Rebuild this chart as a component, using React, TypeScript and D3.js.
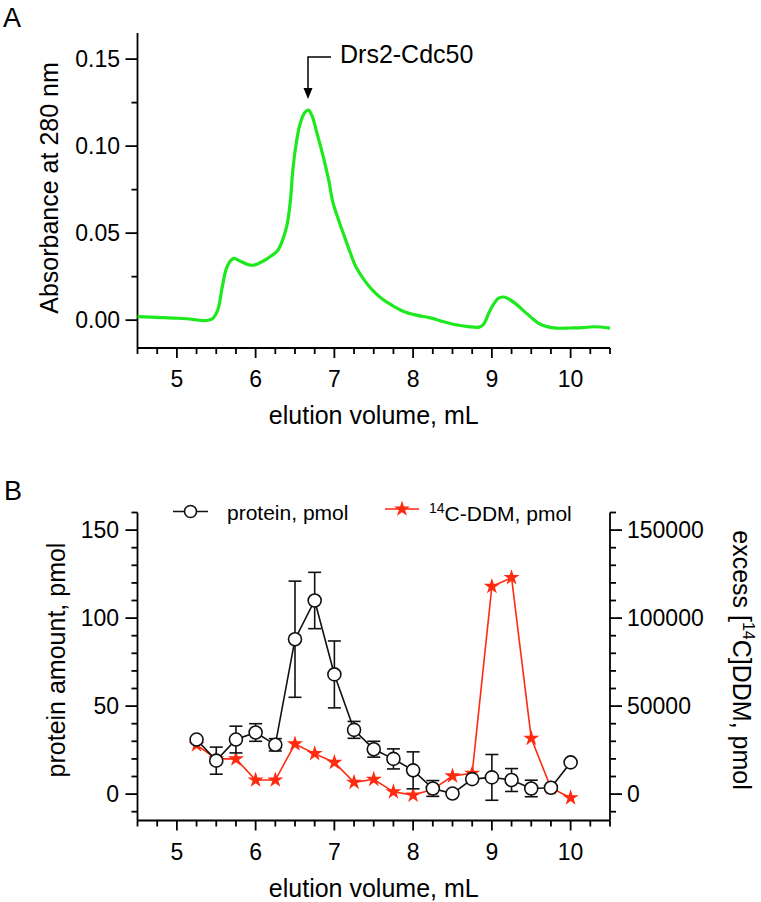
import React from "react";
import * as d3 from "d3";

// ---------- Panel A data ----------
const elutionA = [
  4.5, 4.8, 5.0, 5.2, 5.35, 5.45, 5.52, 5.58, 5.64, 5.72, 5.8, 5.9, 5.98, 6.1, 6.2, 6.28, 6.35, 6.4, 6.44,
  6.47, 6.51, 6.56, 6.62, 6.67, 6.72, 6.77, 6.83, 6.88, 6.93, 6.98, 7.05, 7.12, 7.2, 7.27, 7.38, 7.49,
  7.6, 7.73, 7.88, 8.04, 8.22, 8.38, 8.53, 8.7, 8.84, 8.9, 8.96, 9.02, 9.08, 9.15, 9.22, 9.3, 9.4, 9.5,
  9.6, 9.7, 9.82, 10.0, 10.15, 10.3, 10.5,
];
const absorbanceA = [
  0.002, 0.0015, 0.0011, 0.0005, -0.0003, 0.0008, 0.006, 0.02, 0.031, 0.0355, 0.034, 0.032, 0.0316, 0.034,
  0.037, 0.04, 0.047, 0.055, 0.068, 0.085, 0.1, 0.112, 0.119, 0.1207, 0.117, 0.109, 0.099, 0.09, 0.08,
  0.068, 0.058, 0.049, 0.039, 0.031, 0.023, 0.017, 0.0125, 0.0086, 0.005, 0.0029, 0.0013, -0.0008,
  -0.0025, -0.0037, -0.004, -0.002, 0.004, 0.009, 0.0125, 0.0133, 0.012, 0.0095, 0.0055, 0.0015, -0.002,
  -0.0037, -0.0046, -0.0045, -0.0043, -0.0038, -0.0046,
];
const yTicksA = [0, 0.05, 0.1, 0.15];
const yMinorA = [0.025, 0.075, 0.125];

// ---------- Panel B data ----------
const fractionsB = [5.25, 5.5, 5.75, 6.0, 6.25, 6.5, 6.75, 7.0, 7.25, 7.5, 7.75, 8.0, 8.25, 8.5, 8.75, 9.0, 9.25, 9.5, 9.75, 10.0];
const proteinB = [31, 19, 31, 35, 28, 88, 110, 68, 36.5, 25.5, 20, 13.5, 3.2, 0.3, 8.5, 9.5, 8, 3.2, 3.6, 18];
const proteinErrB = [0, 7.7, 7.6, 5, 3.5, 33, 16, 19, 4.8, 4.5, 5.7, 10.5, 4.5, 0, 0, 13, 6.5, 4.7, 0, 0];
const ddmB = [28000, 20000, 20000, 8000, 8000, 28500, 23000, 18000, 6700, 8400, 1300, -600, 2700, 10300, 11800, 118000, 123000, 31700, 3500, -2100];
const yTicksBLeft = [0, 50, 100, 150];
const yTicksBRight = [0, 50000, 100000, 150000];
const yMinorBLeft = [-10, 10, 20, 30, 40, 60, 70, 80, 90, 110, 120, 130, 140, 160];

// ---------- shared x ----------
const xTicks = [5, 6, 7, 8, 9, 10];
const xMinor = [4.5, 4.75, 5.25, 5.5, 5.75, 6.25, 6.5, 6.75, 7.25, 7.5, 7.75, 8.25, 8.5, 8.75, 9.25, 9.5, 9.75, 10.25, 10.5];

const FONT = "'Liberation Sans', Arial, Helvetica, sans-serif";
const GREEN = "#1ee81e";
const RED = "#ff2a10";

export default function App() {
  const x = d3.scaleLinear().domain([4.5, 10.5]).range([137.5, 610]);
  const yA = d3.scaleLinear().domain([-0.016, 0.165]).range([348, 33]);
  const yB = d3.scaleLinear().domain([-15, 160]).range([820.5, 512.5]);
  const yR = d3.scaleLinear().domain([-15000, 160000]).range([820.5, 512.5]);

  const lineA = d3
    .line<number>()
    .x((_, i) => x(elutionA[i]))
    .y((d) => yA(d))
    .curve(d3.curveCatmullRom.alpha(0.5));
  const lineProt = d3
    .line<number>()
    .x((_, i) => x(fractionsB[i]))
    .y((d) => yB(d));
  const lineDdm = d3
    .line<number>()
    .x((_, i) => x(fractionsB[i]))
    .y((d) => yR(d));
  const star = d3.symbol().type(d3.symbolStar).size(80)();

  const axisStyle = { stroke: "#000", strokeWidth: 1.8, fill: "none" };
  const tickFont = { fontFamily: FONT, fontSize: 23, fill: "#000" };
  const titleFont = { fontFamily: FONT, fontSize: 25, fill: "#000" };

  const xAxis = (yBase: number, labelBase: number, titleBase: number) => (
    <g>
      <line x1={x(4.5)} x2={x(10.5)} y1={yBase} y2={yBase} style={axisStyle} />
      {xTicks.map((t) => (
        <g key={"M" + t}>
          <line x1={x(t)} x2={x(t)} y1={yBase} y2={yBase + 10} style={axisStyle} />
          <text x={x(t)} y={labelBase} textAnchor="middle" style={tickFont}>
            {t}
          </text>
        </g>
      ))}
      {xMinor.map((t) => (
        <line key={"m" + t} x1={x(t)} x2={x(t)} y1={yBase} y2={yBase + 6} style={axisStyle} />
      ))}
      <text x={(x(4.5) + x(10.5)) / 2} y={titleBase} textAnchor="middle" style={titleFont}>
        elution volume, mL
      </text>
    </g>
  );

  return (
    <svg
      width={761}
      height={902}
      style={{ position: "absolute", left: 0, top: 0, background: "#fff" }}
    >
      {/* ===== Panel A ===== */}
      <text x={3} y={27} style={{ fontFamily: FONT, fontSize: 27, fill: "#000" }}>
        A
      </text>
      <line x1={x(4.5)} x2={x(4.5)} y1={33} y2={348} style={axisStyle} />
      {yTicksA.map((t) => (
        <g key={"ya" + t}>
          <line x1={x(4.5) - 12} x2={x(4.5)} y1={yA(t)} y2={yA(t)} style={axisStyle} />
          <text x={120} y={yA(t) + 8} textAnchor="end" style={tickFont}>
            {d3.format(".2f")(t)}
          </text>
        </g>
      ))}
      {yMinorA.map((t) => (
        <line key={"yam" + t} x1={x(4.5) - 6} x2={x(4.5)} y1={yA(t)} y2={yA(t)} style={axisStyle} />
      ))}
      {xAxis(348, 386.5, 424)}
      <text transform="translate(58,188) rotate(-90)" textAnchor="middle" style={titleFont}>
        Absorbance at 280 nm
      </text>
      <path d={lineA(absorbanceA) || ""} fill="none" stroke={GREEN} strokeWidth={3.2} strokeLinejoin="round" />
      {/* annotation arrow */}
      <path d="M331,57 H308 V90" fill="none" stroke="#000" strokeWidth={1.5} />
      <path d="M303.5,88 L308,99 L312.5,88 Z" fill="#000" />
      <text x={340} y={63} style={{ fontFamily: FONT, fontSize: 25, fill: "#000" }}>
        Drs2-Cdc50
      </text>

      {/* ===== Panel B ===== */}
      <text x={4} y={500} style={{ fontFamily: FONT, fontSize: 27, fill: "#000" }}>
        B
      </text>
      <line x1={x(4.5)} x2={x(4.5)} y1={512.5} y2={820.5} style={axisStyle} />
      <line x1={x(10.5)} x2={x(10.5)} y1={512.5} y2={820.5} style={axisStyle} />
      {yTicksBLeft.map((t) => (
        <g key={"yb" + t}>
          <line x1={x(4.5) - 12} x2={x(4.5)} y1={yB(t)} y2={yB(t)} style={axisStyle} />
          <text x={119} y={yB(t) + 8} textAnchor="end" style={tickFont}>
            {t}
          </text>
        </g>
      ))}
      {yMinorBLeft.map((t) => (
        <g key={"ybm" + t}>
          <line x1={x(4.5) - 6} x2={x(4.5)} y1={yB(t)} y2={yB(t)} style={axisStyle} />
          <line x1={x(10.5)} x2={x(10.5) + 6} y1={yB(t)} y2={yB(t)} style={axisStyle} />
        </g>
      ))}
      {yTicksBRight.map((t) => (
        <g key={"yr" + t}>
          <line x1={x(10.5)} x2={x(10.5) + 12} y1={yR(t)} y2={yR(t)} style={axisStyle} />
          <text x={627} y={yR(t) + 8} textAnchor="start" style={tickFont}>
            {t}
          </text>
        </g>
      ))}
      {xAxis(820.5, 860, 897)}
      <text transform="translate(65,660) rotate(-90)" textAnchor="middle" style={titleFont}>
        protein amount, pmol
      </text>
      <text transform="translate(733,660) rotate(90)" textAnchor="middle" style={titleFont}>
        excess [<tspan fontSize={16} dy={-10}>14</tspan>
        <tspan dy={10}>C]DDM, pmol</tspan>
      </text>

      {/* DDM series (behind) */}
      <path d={lineDdm(ddmB) || ""} fill="none" stroke={RED} strokeWidth={1.6} />
      {ddmB.map((v, i) => (
        <path key={"s" + i} d={star || ""} transform={`translate(${x(fractionsB[i])},${yR(v)})`} fill={RED} />
      ))}

      {/* protein series */}
      <path d={lineProt(proteinB) || ""} fill="none" stroke="#111" strokeWidth={1.6} />
      {proteinB.map((v, i) => {
        const e = proteinErrB[i];
        if (!e) return null;
        const cx = x(fractionsB[i]);
        return (
          <g key={"e" + i} stroke="#111" strokeWidth={1.6}>
            <line x1={cx} x2={cx} y1={yB(v + e)} y2={yB(v - e)} />
            <line x1={cx - 6.5} x2={cx + 6.5} y1={yB(v + e)} y2={yB(v + e)} />
            <line x1={cx - 6.5} x2={cx + 6.5} y1={yB(v - e)} y2={yB(v - e)} />
          </g>
        );
      })}
      {proteinB.map((v, i) => (
        <circle key={"c" + i} cx={x(fractionsB[i])} cy={yB(v)} r={6.5} fill="#fff" stroke="#111" strokeWidth={1.6} />
      ))}

      {/* legend */}
      <line x1={173} x2={208} y1={511.5} y2={511.5} stroke="#111" strokeWidth={1.6} />
      <circle cx={190.5} cy={511.5} r={6} fill="#fff" stroke="#111" strokeWidth={1.6} />
      <text x={227} y={520} style={{ fontFamily: FONT, fontSize: 21, fill: "#000" }}>
        protein, pmol
      </text>
      <line x1={385} x2={419} y1={509} y2={509} stroke={RED} strokeWidth={1.6} />
      <path d={star || ""} transform="translate(402,509)" fill={RED} />
      <text x={429} y={521} style={{ fontFamily: FONT, fontSize: 21, fill: "#000" }}>
        <tspan fontSize={14} dy={-8}>14</tspan>
        <tspan dy={8}>C-DDM, pmol</tspan>
      </text>
    </svg>
  );
}
